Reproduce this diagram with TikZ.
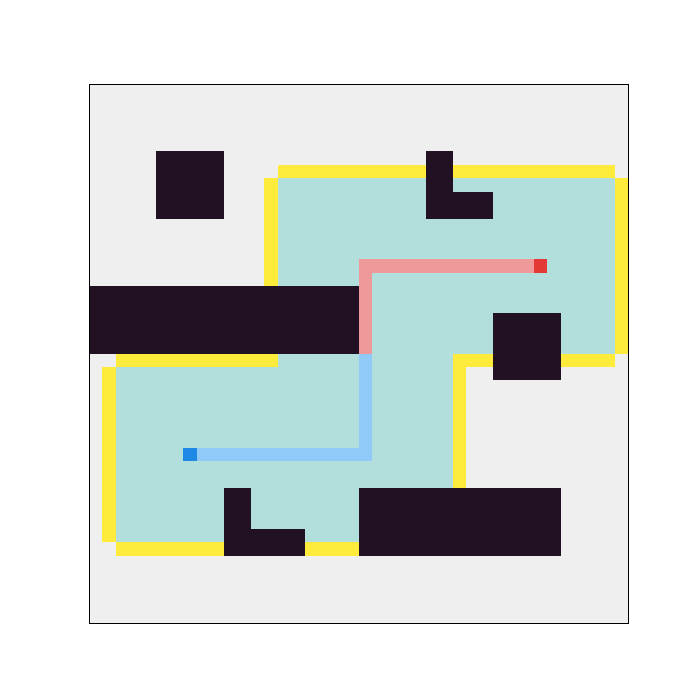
\documentclass[tikz,border=0pt]{standalone}
\definecolor{bgc}{HTML}{EFEFEF}
\definecolor{cyanc}{HTML}{B2DFDB}
\definecolor{yelc}{HTML}{FFEB3B}
\definecolor{obsc}{HTML}{221122}
\definecolor{pinkc}{HTML}{EF9A9A}
\definecolor{redc}{HTML}{E53935}
\definecolor{lbluec}{HTML}{90CAF9}
\definecolor{dbluec}{HTML}{1E88E5}
\tikzset{
  explored/.style={fill=cyanc},
  frontier/.style={fill=yelc},
  obstacle/.style={fill=obsc},
  pathA/.style={fill=pinkc},
  goalcell/.style={fill=redc},
  pathB/.style={fill=lbluec},
  startcell/.style={fill=dbluec}
}
\begin{document}
\begin{tikzpicture}[x=0.5cm,y=-0.5cm]
\useasboundingbox[fill=white] (-6.605,-6.234) rectangle (45.343,45.714);
\fill[bgc] (0,0) rectangle (40,40);
% explored
\path[explored] (14,7) rectangle (39,15);
\path[explored] (20,15) rectangle (39,20);
\path[explored] (14,20) rectangle (27,21);
\path[explored] (2,21) rectangle (27,34);
% frontier
\path[frontier] (14,6) rectangle (39,7);
\path[frontier] (13,7) rectangle (14,15);
\path[frontier] (39,7) rectangle (40,20);
\path[frontier] (27,20) rectangle (39,21);
\path[frontier] (27,21) rectangle (28,30);
\path[frontier] (2,20) rectangle (14,21);
\path[frontier] (1,21) rectangle (2,34);
\path[frontier] (2,34) rectangle (20,35);
% paths
\path[pathA] (20,13) rectangle (33,14);
\path[pathA] (20,14) rectangle (21,20);
\path[goalcell] (33,13) rectangle (34,14);
\path[pathB] (20,20) rectangle (21,28);
\path[pathB] (8,27) rectangle (21,28);
\path[startcell] (7,27) rectangle (8,28);
% obstacles
\path[obstacle] (5,5) rectangle (10,10);
\path[obstacle] (25,5) rectangle (27,10);
\path[obstacle] (27,8) rectangle (30,10);
\path[obstacle] (0,15) rectangle (20,20);
\path[obstacle] (30,17) rectangle (35,22);
\path[obstacle] (10,30) rectangle (12,35);
\path[obstacle] (12,33) rectangle (16,35);
\path[obstacle] (20,30) rectangle (35,35);
% frame
\draw[black,line width=0.9pt] (0,0) rectangle (40,40);
\end{tikzpicture}
\end{document}
